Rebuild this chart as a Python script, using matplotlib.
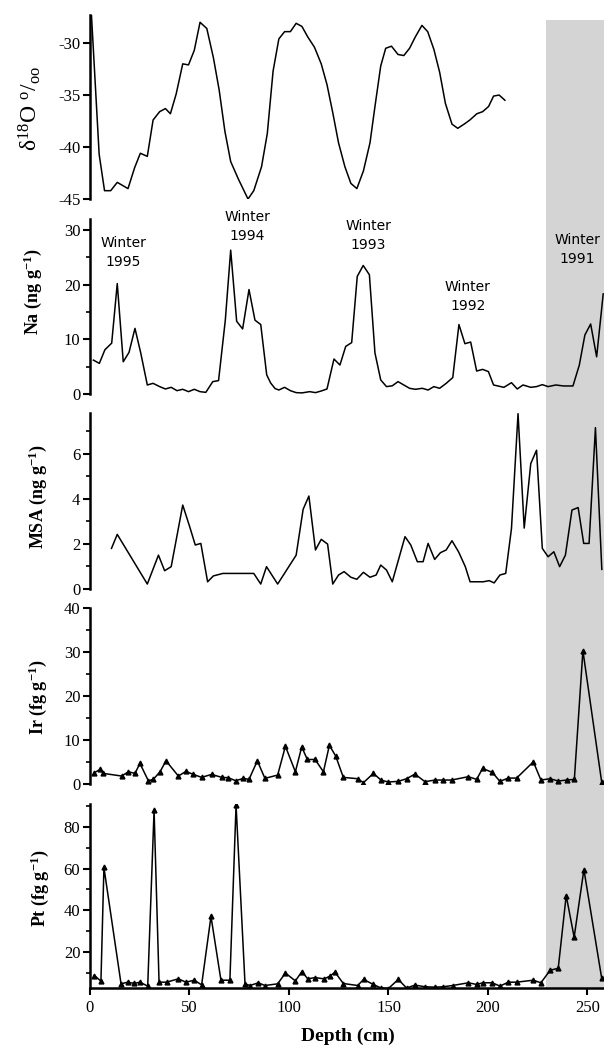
import matplotlib
matplotlib.use('Agg')
import matplotlib.pyplot as plt
from matplotlib.patches import Rectangle
import matplotlib.transforms as mtransforms
from matplotlib.ticker import MultipleLocator, FixedLocator

plt.rcParams['font.family'] = ['Liberation Serif', 'DejaVu Serif']
plt.rcParams['mathtext.fontset'] = 'custom'
plt.rcParams['mathtext.rm'] = 'Liberation Serif'
plt.rcParams['mathtext.it'] = 'Liberation Serif:italic'
plt.rcParams['mathtext.bf'] = 'Liberation Serif:bold'
plt.rcParams['axes.unicode_minus'] = False

# ---------------- data ----------------
d18o_depth = [0.5, 4.6, 7.3, 10.4, 13.7, 19.1, 22.4, 25.3, 28.8, 31.7, 35.0, 37.9, 40.4, 43.3,
              46.6, 49.5, 52.4, 55.3, 58.7, 62.0, 64.9, 67.8, 70.7, 74.6, 79.4, 82.3, 86.2,
              89.1, 92.0, 94.9, 97.8, 100.7, 103.6, 106.5, 109.4, 112.8, 116.2, 119.1, 122.0,
              124.9, 128.1, 131.1, 134.1, 137.4, 140.7, 143.2, 146.1, 148.6, 151.5, 154.8,
              157.7, 160.6, 163.5, 166.8, 169.7, 172.8, 175.7, 178.6, 181.9, 184.8, 188.0,
              190.9, 194.4, 197.3, 200.3, 202.8, 205.6, 208.5]
d18o_value = [-26.5, -40.7, -44.2, -44.2, -43.4, -44.0, -42.0, -40.6, -40.9, -37.4, -36.6,
              -36.3, -36.8, -34.9, -32.0, -32.1, -30.7, -28.0, -28.6, -31.4, -34.5, -38.5,
              -41.4, -43.1, -45.0, -44.2, -41.9, -38.7, -32.7, -29.6, -28.9, -28.9, -28.1,
              -28.4, -29.4, -30.4, -32.0, -34.0, -36.7, -39.6, -41.9, -43.5, -44.0, -42.3,
              -39.6, -36.1, -32.2, -30.5, -30.3, -31.1, -31.2, -30.5, -29.4, -28.3, -28.9,
              -30.6, -32.8, -35.8, -37.8, -38.2, -37.8, -37.4, -36.8, -36.6, -36.1, -35.1,
              -35.0, -35.5]

na_depth = [1.7, 4.7, 7.5, 10.9, 13.7, 16.7, 19.6, 22.6, 25.5, 28.8, 31.7, 35.0, 37.9, 40.8,
            43.7, 46.6, 49.5, 52.4, 55.3, 58.2, 61.7, 64.6, 68.0, 70.7, 73.7, 76.7, 79.9,
            82.9, 85.8, 88.8, 90.8, 93.0, 94.9, 97.8, 100.7, 103.6, 106.5, 110.4, 113.3,
            116.2, 119.1, 122.6, 125.6, 128.5, 131.5, 134.3, 137.3, 140.4, 143.2, 146.1,
            149.0, 151.9, 154.8, 157.7, 160.6, 163.5, 167.0, 169.9, 172.8, 175.7, 179.0,
            182.3, 185.4, 188.4, 191.3, 194.3, 197.3, 200.2, 202.8, 208.0, 211.8, 214.7,
            217.6, 221.5, 224.4, 227.3, 230.2, 234.1, 237.9, 242.7, 245.9, 248.7, 251.6,
            254.6, 257.9]
na_value = [6.2, 5.6, 8.1, 9.3, 20.2, 5.9, 7.6, 12.0, 7.5, 1.65, 1.95, 1.35, 0.92, 1.22,
            0.61, 0.86, 0.43, 0.86, 0.43, 0.3, 2.26, 2.45, 13.5, 26.3, 13.3, 11.9, 19.1,
            13.5, 12.7, 3.5, 2.0, 1.0, 0.73, 1.22, 0.61, 0.25, 0.2, 0.43, 0.25, 0.55, 0.92,
            6.4, 5.3, 8.7, 9.4, 21.5, 23.5, 21.8, 7.5, 2.57, 1.35, 1.5, 2.26, 1.65, 1.04,
            0.86, 1.04, 0.73, 1.35, 1.04, 1.95, 3.0, 12.7, 9.2, 9.5, 4.2, 4.5, 4.1, 1.65,
            1.22, 2.07, 0.92, 1.65, 1.22, 1.35, 1.71, 1.35, 1.65, 1.47, 1.47, 5.3, 10.8,
            12.8, 6.8, 18.3]

msa_depth = [10.8, 13.7, 28.8, 34.4, 37.5, 40.8, 46.6, 50.1, 52.9, 55.7, 59.1, 62.0, 66.8,
             82.3, 85.8, 88.7, 94.3, 103.6, 107.1, 110.0, 113.3, 116.2, 119.4, 122.0, 124.9,
             127.7, 131.1, 134.1, 137.4, 140.7, 143.8, 146.1, 149.0, 151.9, 158.3, 161.2,
             164.5, 167.4, 169.9, 173.2, 176.1, 179.0, 181.9, 185.2, 188.6, 191.0, 197.6,
             200.6, 203.1, 206.0, 208.9, 211.8, 215.1, 218.2, 221.5, 224.4, 227.3, 230.2,
             233.1, 236.0, 238.9, 242.2, 245.3, 248.1, 250.8, 254.0, 257.2]
msa_value = [1.8, 2.42, 0.22, 1.5, 0.81, 0.99, 3.72, 2.76, 1.95, 2.02, 0.32, 0.58, 0.69,
             0.69, 0.22, 0.99, 0.22, 1.5, 3.53, 4.12, 1.73, 2.2, 1.99, 0.22, 0.62, 0.77,
             0.52, 0.43, 0.74, 0.52, 0.62, 1.06, 0.84, 0.32, 2.32, 1.95, 1.21, 1.21, 2.02,
             1.31, 1.61, 1.73, 2.14, 1.65, 0.99, 0.32, 0.32, 0.37, 0.27, 0.62, 0.69, 2.68,
             7.77, 2.7, 5.56, 6.15, 1.8, 1.43, 1.65, 0.99, 1.5, 3.5, 3.61, 2.02, 2.02, 7.15,
             0.87]

ir_depth = [2.2, 5.0, 6.7, 15.9, 19.3, 22.6, 25.1, 29.3, 31.8, 35.2, 38.2, 44.4, 48.2, 51.9,
            56.1, 61.1, 66.2, 69.5, 73.2, 77.1, 79.9, 84.1, 87.9, 94.3, 98.2, 103.2, 106.4,
            109.2, 113.1, 117.3, 120.3, 123.5, 127.3, 134.5, 137.4, 142.4, 146.2, 149.9,
            154.9, 159.1, 163.3, 168.3, 173.4, 177.6, 181.7, 190.1, 194.3, 197.3, 202.2,
            206.0, 210.2, 214.4, 222.8, 226.6, 231.2, 235.3, 239.5, 243.4, 247.7, 257.1]
ir_value = [2.56, 3.31, 2.41, 1.81, 2.78, 2.41, 4.67, 0.75, 1.05, 2.78, 5.27, 1.81, 2.86,
            2.18, 1.51, 2.18, 1.51, 1.43, 0.75, 1.28, 1.05, 5.27, 1.28, 2.03, 8.58, 2.78,
            8.43, 5.57, 5.57, 2.78, 8.8, 6.32, 1.51, 1.2, 0.3, 2.41, 0.9, 0.45, 0.6, 1.2,
            2.26, 0.53, 0.9, 0.9, 0.9, 1.66, 1.05, 3.54, 2.63, 0.6, 1.35, 1.35, 5.04, 0.9,
            1.2, 0.68, 0.9, 1.05, 30.3, 0.53]

pt_depth = [2.2, 5.5, 7.0, 15.6, 18.9, 22.3, 25.1, 29.0, 32.2, 34.7, 38.5, 44.4, 48.2, 52.4,
            56.1, 60.8, 65.8, 70.3, 73.4, 77.9, 80.4, 84.6, 87.9, 94.3, 98.2, 103.2, 106.5,
            109.4, 113.1, 117.6, 120.6, 123.1, 127.3, 134.5, 137.5, 142.4, 146.2, 149.9,
            154.9, 159.1, 163.3, 168.3, 173.4, 177.6, 182.2, 190.1, 194.3, 197.3, 202.2,
            206.0, 210.2, 214.4, 222.8, 226.6, 231.2, 235.3, 239.3, 243.3, 248.2, 257.1]
pt_value = [8.6, 5.9, 60.5, 4.6, 5.4, 4.8, 5.4, 3.5, 88.0, 5.4, 5.4, 7.0, 5.4, 6.35, 4.1,
            37.0, 6.35, 6.35, 90.5, 4.6, 3.8, 5.1, 3.8, 4.6, 9.8, 6.0, 10.5, 7.0, 7.6, 7.0,
            8.3, 10.2, 4.76, 3.8, 6.7, 4.3, 2.6, 2.3, 6.7, 2.6, 4.0, 3.2, 3.0, 3.2, 3.8, 5.1,
            4.3, 5.1, 5.1, 3.5, 5.4, 5.4, 6.35, 5.1, 11.1, 12.1, 47.0, 27.0, 59.5, 7.5]

winter_labels = ['Winter\n1995', 'Winter\n1994', 'Winter\n1993', 'Winter\n1992', 'Winter\n1991']
winter_depth = [16.6, 79.2, 139.9, 189.8, 245.0]
winter_na = [25.9, 30.7, 28.9, 17.8, 26.4]

shade_start = 229.0
x_max = 258.3

# ---------------- figure ----------------
W, H = 604, 1047
fig = plt.figure(figsize=(W / 100, H / 100), dpi=100)

def add_axes(top, bot):
    ax = fig.add_axes([90 / W, 1 - bot / H, (W - 90) / W, (bot - top) / H])
    ax.set_facecolor('none')
    return ax

ax1 = add_axes(15, 199)
ax2 = add_axes(219, 394)
ax3 = add_axes(413, 589)
ax4 = add_axes(608, 784)
ax5 = add_axes(804, 988)
axes = [ax1, ax2, ax3, ax4, ax5]

lw = 1.1
ax1.plot(d18o_depth, d18o_value, color='black', lw=lw)
ax2.plot(na_depth, na_value, color='black', lw=lw)
ax3.plot(msa_depth, msa_value, color='black', lw=lw)
ax4.plot(ir_depth, ir_value, color='black', lw=lw, marker='^', ms=3.5)
ax5.plot(pt_depth, pt_value, color='black', lw=lw, marker='^', ms=3.5)

ax1.set_ylim(-45, -27.3)
ax1.yaxis.set_major_locator(FixedLocator([-45, -40, -35, -30]))
ax2.set_ylim(0, 32)
ax2.yaxis.set_major_locator(MultipleLocator(10))
ax2.yaxis.set_minor_locator(MultipleLocator(5))
ax3.set_ylim(0, 7.8)
ax3.yaxis.set_major_locator(MultipleLocator(2))
ax3.yaxis.set_minor_locator(MultipleLocator(1))
ax4.set_ylim(0, 40)
ax4.yaxis.set_major_locator(MultipleLocator(10))
ax4.yaxis.set_minor_locator(MultipleLocator(5))
ax5.set_ylim(2.6, 91)
ax5.yaxis.set_major_locator(FixedLocator([20, 40, 60, 80]))
ax5.yaxis.set_minor_locator(FixedLocator([10, 30, 50, 70, 90]))

for ax in axes:
    ax.set_xlim(0, x_max)
    for s in ['top', 'right', 'bottom']:
        ax.spines[s].set_visible(False)
    ax.spines['left'].set_linewidth(1.8)
    ax.tick_params(axis='y', which='major', direction='out', length=5, width=1.5,
                   labelsize=12, pad=2)
    ax.tick_params(axis='y', which='minor', direction='out', length=3, width=1.2)
    if ax is not ax5:
        ax.tick_params(axis='x', which='both', bottom=False, labelbottom=False)
    ax.spines['left'].set_bounds(*ax.get_ylim())

ax5.spines['bottom'].set_visible(True)
ax5.spines['bottom'].set_linewidth(1.8)
ax5.xaxis.set_major_locator(MultipleLocator(50))
ax5.tick_params(axis='x', which='major', direction='out', length=5, width=1.5,
                labelsize=12, pad=4)

for lab, xd, yd in zip(winter_labels, winter_depth, winter_na):
    ax2.text(xd, yd, lab, ha='center', va='center', family='DejaVu Sans', fontsize=10,
             linespacing=1.45, clip_on=False)

# grey shading spanning all panels
trans = mtransforms.blended_transform_factory(ax5.transData, fig.transFigure)
rect = Rectangle((shade_start, 1 - 988 / H), x_max - shade_start, (988 - 20) / H,
                 transform=trans, facecolor='#d4d4d4', edgecolor='none', zorder=-1)
fig.patches.append(rect)

# y labels
fig.text(30 / W, 1 - 108 / H, 'δ$^{18}$O $^{\\mathrm{o}}/_{\\mathrm{oo}}$', rotation=90,
         ha='center', va='center', fontsize=17)
ylab = [('Na (ng g$^{\\mathbf{-1}}$)', 33, 292),
        ('MSA (ng g$^{\\mathbf{-1}}$)', 38, 497),
        ('Ir (fg g$^{\\mathbf{-1}}$)', 38, 697),
        ('Pt (fg g$^{\\mathbf{-1}}$)', 40, 888)]
for t, x, y in ylab:
    fig.text(x / W, 1 - y / H, t, rotation=90, ha='center', va='center', fontsize=13,
             fontweight='bold')

fig.text(348 / W, 1 - 1036 / H, 'Depth (cm)', ha='center', va='center', fontsize=14,
         fontweight='bold')

fig.savefig('out.png', dpi=100)
